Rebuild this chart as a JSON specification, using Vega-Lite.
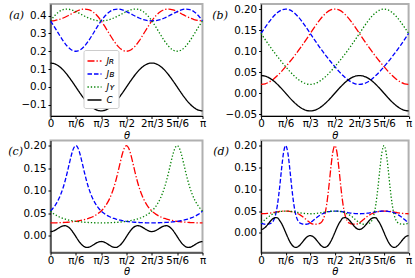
{
"$schema": "https://vega.github.io/schema/vega-lite/v6.json",
"padding": {"left": 6.5, "top": 3, "right": 2, "bottom": 0},
"bounds": "flush",
"columns": 2,
"spacing": {"column": 58.6, "row": 24.5},
"config": {
"view": {"stroke": "#b0b0b0", "strokeWidth": 2},
"axis": {"grid": false, "domainColor": "#000000", "domainWidth": 1, "tickColor": "#000000", "tickSize": 2.5, "labelFont": "DejaVu Sans", "labelFontSize": 10.3, "labelColor": "#000000", "titleFont": "DejaVu Sans", "titleFontWeight": "normal", "titleColor": "#000000"},
"axisX": {"labelPadding": 0, "titleFontSize": 10, "titleFontStyle": "italic", "titlePadding": 1.5, "labelFlush": false},
"axisY": {"labelPadding": 2, "titleAngle": 0, "titleFont": "DejaVu Serif", "titleFontStyle": "italic", "titleFontSize": 11, "titleAlign": "left", "titleBaseline": "middle", "labelFlush": false}
},
"resolve": {"scale": {"y": "independent", "color": "independent", "strokeDash": "independent"}},
"datasets": {
"a": [
{"th":0,"R":0.3700,"B":0.3700,"Y":0.3700,"C":0.1340},
{"th":5,"R":0.3719,"B":0.3338,"Y":0.3999,"C":0.1294},
{"th":10,"R":0.3774,"B":0.2950,"Y":0.4212,"C":0.1160},
{"th":15,"R":0.3861,"B":0.2579,"Y":0.4330,"C":0.0948},
{"th":20,"R":0.3973,"B":0.2273,"Y":0.4359,"C":0.0670},
{"th":25,"R":0.4099,"B":0.2071,"Y":0.4315,"C":0.0347},
{"th":30,"R":0.4220,"B":0.2000,"Y":0.4220,"C":0},
{"th":35,"R":0.4315,"B":0.2071,"Y":0.4099,"C":-0.0347},
{"th":40,"R":0.4359,"B":0.2273,"Y":0.3973,"C":-0.0670},
{"th":45,"R":0.4330,"B":0.2579,"Y":0.3861,"C":-0.0948},
{"th":50,"R":0.4212,"B":0.2950,"Y":0.3774,"C":-0.1160},
{"th":55,"R":0.3999,"B":0.3338,"Y":0.3719,"C":-0.1294},
{"th":60,"R":0.3700,"B":0.3700,"Y":0.3700,"C":-0.1340},
{"th":65,"R":0.3338,"B":0.3999,"Y":0.3719,"C":-0.1294},
{"th":70,"R":0.2950,"B":0.4212,"Y":0.3774,"C":-0.1160},
{"th":75,"R":0.2579,"B":0.4330,"Y":0.3861,"C":-0.0948},
{"th":80,"R":0.2273,"B":0.4359,"Y":0.3973,"C":-0.0670},
{"th":85,"R":0.2071,"B":0.4315,"Y":0.4099,"C":-0.0347},
{"th":90,"R":0.2000,"B":0.4220,"Y":0.4220,"C":0},
{"th":95,"R":0.2071,"B":0.4099,"Y":0.4315,"C":0.0347},
{"th":100,"R":0.2273,"B":0.3973,"Y":0.4359,"C":0.0670},
{"th":105,"R":0.2579,"B":0.3861,"Y":0.4330,"C":0.0948},
{"th":110,"R":0.2950,"B":0.3774,"Y":0.4212,"C":0.1160},
{"th":115,"R":0.3338,"B":0.3719,"Y":0.3999,"C":0.1294},
{"th":120,"R":0.3700,"B":0.3700,"Y":0.3700,"C":0.1340},
{"th":125,"R":0.3999,"B":0.3719,"Y":0.3338,"C":0.1294},
{"th":130,"R":0.4212,"B":0.3774,"Y":0.2950,"C":0.1160},
{"th":135,"R":0.4330,"B":0.3861,"Y":0.2579,"C":0.0948},
{"th":140,"R":0.4359,"B":0.3973,"Y":0.2273,"C":0.0670},
{"th":145,"R":0.4315,"B":0.4099,"Y":0.2071,"C":0.0347},
{"th":150,"R":0.4220,"B":0.4220,"Y":0.2000,"C":0},
{"th":155,"R":0.4099,"B":0.4315,"Y":0.2071,"C":-0.0347},
{"th":160,"R":0.3973,"B":0.4359,"Y":0.2273,"C":-0.0670},
{"th":165,"R":0.3861,"B":0.4330,"Y":0.2579,"C":-0.0948},
{"th":170,"R":0.3774,"B":0.4212,"Y":0.2950,"C":-0.1160},
{"th":175,"R":0.3719,"B":0.3999,"Y":0.3338,"C":-0.1294},
{"th":180,"R":0.3700,"B":0.3700,"Y":0.3700,"C":-0.1340}
],
"b": [
{"th":0,"R":0.0210,"B":0.1421,"Y":0.1421,"C":0.0420},
{"th":5,"R":0.0225,"B":0.1565,"Y":0.1275,"C":0.0406},
{"th":10,"R":0.0267,"B":0.1703,"Y":0.1134,"C":0.0364},
{"th":15,"R":0.0334,"B":0.1823,"Y":0.0999,"C":0.0297},
{"th":20,"R":0.0420,"B":0.1918,"Y":0.0870,"C":0.0210},
{"th":25,"R":0.0520,"B":0.1979,"Y":0.0748,"C":0.0109},
{"th":30,"R":0.0631,"B":0.2000,"Y":0.0631,"C":0},
{"th":35,"R":0.0748,"B":0.1979,"Y":0.0520,"C":-0.0109},
{"th":40,"R":0.0870,"B":0.1918,"Y":0.0420,"C":-0.0210},
{"th":45,"R":0.0999,"B":0.1823,"Y":0.0334,"C":-0.0297},
{"th":50,"R":0.1134,"B":0.1703,"Y":0.0267,"C":-0.0364},
{"th":55,"R":0.1275,"B":0.1565,"Y":0.0225,"C":-0.0406},
{"th":60,"R":0.1421,"B":0.1421,"Y":0.0210,"C":-0.0420},
{"th":65,"R":0.1565,"B":0.1275,"Y":0.0225,"C":-0.0406},
{"th":70,"R":0.1703,"B":0.1134,"Y":0.0267,"C":-0.0364},
{"th":75,"R":0.1823,"B":0.0999,"Y":0.0334,"C":-0.0297},
{"th":80,"R":0.1918,"B":0.0870,"Y":0.0420,"C":-0.0210},
{"th":85,"R":0.1979,"B":0.0748,"Y":0.0520,"C":-0.0109},
{"th":90,"R":0.2000,"B":0.0631,"Y":0.0631,"C":0},
{"th":95,"R":0.1979,"B":0.0520,"Y":0.0748,"C":0.0109},
{"th":100,"R":0.1918,"B":0.0420,"Y":0.0870,"C":0.0210},
{"th":105,"R":0.1823,"B":0.0334,"Y":0.0999,"C":0.0297},
{"th":110,"R":0.1703,"B":0.0267,"Y":0.1134,"C":0.0364},
{"th":115,"R":0.1565,"B":0.0225,"Y":0.1275,"C":0.0406},
{"th":120,"R":0.1421,"B":0.0210,"Y":0.1421,"C":0.0420},
{"th":125,"R":0.1275,"B":0.0225,"Y":0.1565,"C":0.0406},
{"th":130,"R":0.1134,"B":0.0267,"Y":0.1703,"C":0.0364},
{"th":135,"R":0.0999,"B":0.0334,"Y":0.1823,"C":0.0297},
{"th":140,"R":0.0870,"B":0.0420,"Y":0.1918,"C":0.0210},
{"th":145,"R":0.0748,"B":0.0520,"Y":0.1979,"C":0.0109},
{"th":150,"R":0.0631,"B":0.0631,"Y":0.2000,"C":0},
{"th":155,"R":0.0520,"B":0.0748,"Y":0.1979,"C":-0.0109},
{"th":160,"R":0.0420,"B":0.0870,"Y":0.1918,"C":-0.0210},
{"th":165,"R":0.0334,"B":0.0999,"Y":0.1823,"C":-0.0297},
{"th":170,"R":0.0267,"B":0.1134,"Y":0.1703,"C":-0.0364},
{"th":175,"R":0.0225,"B":0.1275,"Y":0.1565,"C":-0.0406},
{"th":180,"R":0.0210,"B":0.1421,"Y":0.1421,"C":-0.0420}
],
"c": [
{"th":0,"R":0.0290,"B":0.0553,"Y":0.0553,"C":0.0097},
{"th":2.5,"R":0.0291,"B":0.0603,"Y":0.0512,"C":0.0104},
{"th":5,"R":0.0291,"B":0.0663,"Y":0.0478,"C":0.0123},
{"th":7.5,"R":0.0292,"B":0.0737,"Y":0.0450,"C":0.0150},
{"th":10,"R":0.0294,"B":0.0827,"Y":0.0426,"C":0.0180},
{"th":12.5,"R":0.0295,"B":0.0938,"Y":0.0405,"C":0.0207},
{"th":15,"R":0.0298,"B":0.1073,"Y":0.0388,"C":0.0224},
{"th":17.5,"R":0.0301,"B":0.1234,"Y":0.0373,"C":0.0227},
{"th":20,"R":0.0304,"B":0.1420,"Y":0.0360,"C":0.0211},
{"th":22.5,"R":0.0308,"B":0.1620,"Y":0.0349,"C":0.0176},
{"th":25,"R":0.0313,"B":0.1808,"Y":0.0340,"C":0.0124},
{"th":27.5,"R":0.0318,"B":0.1948,"Y":0.0331,"C":0.0059},
{"th":30,"R":0.0324,"B":0.2000,"Y":0.0324,"C":-0.0013},
{"th":32.5,"R":0.0331,"B":0.1948,"Y":0.0318,"C":-0.0085},
{"th":35,"R":0.0340,"B":0.1808,"Y":0.0313,"C":-0.0150},
{"th":37.5,"R":0.0349,"B":0.1620,"Y":0.0308,"C":-0.0202},
{"th":40,"R":0.0360,"B":0.1420,"Y":0.0304,"C":-0.0237},
{"th":42.5,"R":0.0373,"B":0.1234,"Y":0.0301,"C":-0.0253},
{"th":45,"R":0.0388,"B":0.1073,"Y":0.0298,"C":-0.0250},
{"th":47.5,"R":0.0405,"B":0.0938,"Y":0.0295,"C":-0.0233},
{"th":50,"R":0.0426,"B":0.0827,"Y":0.0294,"C":-0.0206},
{"th":52.5,"R":0.0450,"B":0.0737,"Y":0.0292,"C":-0.0176},
{"th":55,"R":0.0478,"B":0.0663,"Y":0.0291,"C":-0.0149},
{"th":57.5,"R":0.0512,"B":0.0603,"Y":0.0291,"C":-0.0130},
{"th":60,"R":0.0553,"B":0.0553,"Y":0.0290,"C":-0.0123},
{"th":62.5,"R":0.0603,"B":0.0512,"Y":0.0291,"C":-0.0130},
{"th":65,"R":0.0663,"B":0.0478,"Y":0.0291,"C":-0.0149},
{"th":67.5,"R":0.0737,"B":0.0450,"Y":0.0292,"C":-0.0176},
{"th":70,"R":0.0827,"B":0.0426,"Y":0.0294,"C":-0.0206},
{"th":72.5,"R":0.0938,"B":0.0405,"Y":0.0295,"C":-0.0233},
{"th":75,"R":0.1073,"B":0.0388,"Y":0.0298,"C":-0.0250},
{"th":77.5,"R":0.1234,"B":0.0373,"Y":0.0301,"C":-0.0253},
{"th":80,"R":0.1420,"B":0.0360,"Y":0.0304,"C":-0.0237},
{"th":82.5,"R":0.1620,"B":0.0349,"Y":0.0308,"C":-0.0202},
{"th":85,"R":0.1808,"B":0.0340,"Y":0.0313,"C":-0.0150},
{"th":87.5,"R":0.1948,"B":0.0331,"Y":0.0318,"C":-0.0085},
{"th":90,"R":0.2000,"B":0.0324,"Y":0.0324,"C":-0.0013},
{"th":92.5,"R":0.1948,"B":0.0318,"Y":0.0331,"C":0.0059},
{"th":95,"R":0.1808,"B":0.0313,"Y":0.0340,"C":0.0124},
{"th":97.5,"R":0.1620,"B":0.0308,"Y":0.0349,"C":0.0176},
{"th":100,"R":0.1420,"B":0.0304,"Y":0.0360,"C":0.0211},
{"th":102.5,"R":0.1234,"B":0.0301,"Y":0.0373,"C":0.0227},
{"th":105,"R":0.1073,"B":0.0298,"Y":0.0388,"C":0.0224},
{"th":107.5,"R":0.0938,"B":0.0295,"Y":0.0405,"C":0.0207},
{"th":110,"R":0.0827,"B":0.0294,"Y":0.0426,"C":0.0180},
{"th":112.5,"R":0.0737,"B":0.0292,"Y":0.0450,"C":0.0150},
{"th":115,"R":0.0663,"B":0.0291,"Y":0.0478,"C":0.0123},
{"th":117.5,"R":0.0603,"B":0.0291,"Y":0.0512,"C":0.0104},
{"th":120,"R":0.0553,"B":0.0290,"Y":0.0553,"C":0.0097},
{"th":122.5,"R":0.0512,"B":0.0291,"Y":0.0603,"C":0.0104},
{"th":125,"R":0.0478,"B":0.0291,"Y":0.0663,"C":0.0123},
{"th":127.5,"R":0.0450,"B":0.0292,"Y":0.0737,"C":0.0150},
{"th":130,"R":0.0426,"B":0.0294,"Y":0.0827,"C":0.0180},
{"th":132.5,"R":0.0405,"B":0.0295,"Y":0.0938,"C":0.0207},
{"th":135,"R":0.0388,"B":0.0298,"Y":0.1073,"C":0.0224},
{"th":137.5,"R":0.0373,"B":0.0301,"Y":0.1234,"C":0.0227},
{"th":140,"R":0.0360,"B":0.0304,"Y":0.1420,"C":0.0211},
{"th":142.5,"R":0.0349,"B":0.0308,"Y":0.1620,"C":0.0176},
{"th":145,"R":0.0340,"B":0.0313,"Y":0.1808,"C":0.0124},
{"th":147.5,"R":0.0331,"B":0.0318,"Y":0.1948,"C":0.0059},
{"th":150,"R":0.0324,"B":0.0324,"Y":0.2000,"C":-0.0013},
{"th":152.5,"R":0.0318,"B":0.0331,"Y":0.1948,"C":-0.0085},
{"th":155,"R":0.0313,"B":0.0340,"Y":0.1808,"C":-0.0150},
{"th":157.5,"R":0.0308,"B":0.0349,"Y":0.1620,"C":-0.0202},
{"th":160,"R":0.0304,"B":0.0360,"Y":0.1420,"C":-0.0237},
{"th":162.5,"R":0.0301,"B":0.0373,"Y":0.1234,"C":-0.0253},
{"th":165,"R":0.0298,"B":0.0388,"Y":0.1073,"C":-0.0250},
{"th":167.5,"R":0.0295,"B":0.0405,"Y":0.0938,"C":-0.0233},
{"th":170,"R":0.0294,"B":0.0426,"Y":0.0827,"C":-0.0206},
{"th":172.5,"R":0.0292,"B":0.0450,"Y":0.0737,"C":-0.0176},
{"th":175,"R":0.0291,"B":0.0478,"Y":0.0663,"C":-0.0149},
{"th":177.5,"R":0.0291,"B":0.0512,"Y":0.0603,"C":-0.0130},
{"th":180,"R":0.0290,"B":0.0553,"Y":0.0553,"C":-0.0123}
],
"d": [
{"th":0,"R":0.0440,"B":0.0232,"Y":0.0232,"C":0.0080},
{"th":2.5,"R":0.0441,"B":0.0208,"Y":0.0268,"C":0.0093},
{"th":5,"R":0.0444,"B":0.0200,"Y":0.0308,"C":0.0128},
{"th":7.5,"R":0.0448,"B":0.0201,"Y":0.0348,"C":0.0180},
{"th":10,"R":0.0454,"B":0.0207,"Y":0.0385,"C":0.0239},
{"th":12.5,"R":0.0461,"B":0.0226,"Y":0.0415,"C":0.0294},
{"th":15,"R":0.0469,"B":0.0279,"Y":0.0440,"C":0.0334},
{"th":17.5,"R":0.0477,"B":0.0406,"Y":0.0460,"C":0.0350},
{"th":20,"R":0.0485,"B":0.0649,"Y":0.0475,"C":0.0346},
{"th":22.5,"R":0.0492,"B":0.1024,"Y":0.0487,"C":0.0290},
{"th":25,"R":0.0497,"B":0.1472,"Y":0.0495,"C":0.0216},
{"th":27.5,"R":0.0500,"B":0.1850,"Y":0.0499,"C":0.0119},
{"th":30,"R":0.0500,"B":0.2000,"Y":0.0500,"C":0.0010},
{"th":32.5,"R":0.0499,"B":0.1850,"Y":0.0500,"C":-0.0099},
{"th":35,"R":0.0495,"B":0.1472,"Y":0.0497,"C":-0.0196},
{"th":37.5,"R":0.0487,"B":0.1024,"Y":0.0492,"C":-0.0270},
{"th":40,"R":0.0475,"B":0.0649,"Y":0.0485,"C":-0.0316},
{"th":42.5,"R":0.0460,"B":0.0406,"Y":0.0477,"C":-0.0330},
{"th":45,"R":0.0440,"B":0.0279,"Y":0.0469,"C":-0.0314},
{"th":47.5,"R":0.0415,"B":0.0226,"Y":0.0461,"C":-0.0274},
{"th":50,"R":0.0385,"B":0.0207,"Y":0.0454,"C":-0.0219},
{"th":52.5,"R":0.0348,"B":0.0201,"Y":0.0448,"C":-0.0160},
{"th":55,"R":0.0308,"B":0.0200,"Y":0.0444,"C":-0.0108},
{"th":57.5,"R":0.0268,"B":0.0208,"Y":0.0441,"C":-0.0073},
{"th":60,"R":0.0232,"B":0.0232,"Y":0.0440,"C":-0.0060},
{"th":62.5,"R":0.0208,"B":0.0268,"Y":0.0441,"C":-0.0073},
{"th":65,"R":0.0200,"B":0.0308,"Y":0.0444,"C":-0.0108},
{"th":67.5,"R":0.0201,"B":0.0348,"Y":0.0448,"C":-0.0160},
{"th":70,"R":0.0207,"B":0.0385,"Y":0.0454,"C":-0.0219},
{"th":72.5,"R":0.0226,"B":0.0415,"Y":0.0461,"C":-0.0274},
{"th":75,"R":0.0279,"B":0.0440,"Y":0.0469,"C":-0.0314},
{"th":77.5,"R":0.0406,"B":0.0460,"Y":0.0477,"C":-0.0330},
{"th":80,"R":0.0649,"B":0.0475,"Y":0.0485,"C":-0.0316},
{"th":82.5,"R":0.1024,"B":0.0487,"Y":0.0492,"C":-0.0270},
{"th":85,"R":0.1472,"B":0.0495,"Y":0.0497,"C":-0.0196},
{"th":87.5,"R":0.1850,"B":0.0499,"Y":0.0500,"C":-0.0099},
{"th":90,"R":0.2000,"B":0.0500,"Y":0.0500,"C":0.0010},
{"th":92.5,"R":0.1850,"B":0.0500,"Y":0.0499,"C":0.0119},
{"th":95,"R":0.1472,"B":0.0497,"Y":0.0495,"C":0.0216},
{"th":97.5,"R":0.1024,"B":0.0492,"Y":0.0487,"C":0.0290},
{"th":100,"R":0.0649,"B":0.0485,"Y":0.0475,"C":0.0346},
{"th":102.5,"R":0.0406,"B":0.0477,"Y":0.0460,"C":0.0350},
{"th":105,"R":0.0279,"B":0.0469,"Y":0.0440,"C":0.0334},
{"th":107.5,"R":0.0226,"B":0.0461,"Y":0.0415,"C":0.0294},
{"th":110,"R":0.0207,"B":0.0454,"Y":0.0385,"C":0.0239},
{"th":112.5,"R":0.0201,"B":0.0448,"Y":0.0348,"C":0.0180},
{"th":115,"R":0.0200,"B":0.0444,"Y":0.0308,"C":0.0128},
{"th":117.5,"R":0.0208,"B":0.0441,"Y":0.0268,"C":0.0093},
{"th":120,"R":0.0232,"B":0.0440,"Y":0.0232,"C":0.0080},
{"th":122.5,"R":0.0268,"B":0.0441,"Y":0.0208,"C":0.0093},
{"th":125,"R":0.0308,"B":0.0444,"Y":0.0200,"C":0.0128},
{"th":127.5,"R":0.0348,"B":0.0448,"Y":0.0201,"C":0.0180},
{"th":130,"R":0.0385,"B":0.0454,"Y":0.0207,"C":0.0239},
{"th":132.5,"R":0.0415,"B":0.0461,"Y":0.0226,"C":0.0294},
{"th":135,"R":0.0440,"B":0.0469,"Y":0.0279,"C":0.0334},
{"th":137.5,"R":0.0460,"B":0.0477,"Y":0.0406,"C":0.0350},
{"th":140,"R":0.0475,"B":0.0485,"Y":0.0649,"C":0.0346},
{"th":142.5,"R":0.0487,"B":0.0492,"Y":0.1024,"C":0.0290},
{"th":145,"R":0.0495,"B":0.0497,"Y":0.1472,"C":0.0216},
{"th":147.5,"R":0.0499,"B":0.0500,"Y":0.1850,"C":0.0119},
{"th":150,"R":0.0500,"B":0.0500,"Y":0.2000,"C":0.0010},
{"th":152.5,"R":0.0500,"B":0.0499,"Y":0.1850,"C":-0.0099},
{"th":155,"R":0.0497,"B":0.0495,"Y":0.1472,"C":-0.0196},
{"th":157.5,"R":0.0492,"B":0.0487,"Y":0.1024,"C":-0.0270},
{"th":160,"R":0.0485,"B":0.0475,"Y":0.0649,"C":-0.0316},
{"th":162.5,"R":0.0477,"B":0.0460,"Y":0.0406,"C":-0.0330},
{"th":165,"R":0.0469,"B":0.0440,"Y":0.0279,"C":-0.0314},
{"th":167.5,"R":0.0461,"B":0.0415,"Y":0.0226,"C":-0.0274},
{"th":170,"R":0.0454,"B":0.0385,"Y":0.0207,"C":-0.0219},
{"th":172.5,"R":0.0448,"B":0.0348,"Y":0.0201,"C":-0.0160},
{"th":175,"R":0.0444,"B":0.0308,"Y":0.0200,"C":-0.0108},
{"th":177.5,"R":0.0441,"B":0.0268,"Y":0.0208,"C":-0.0073},
{"th":180,"R":0.0440,"B":0.0232,"Y":0.0232,"C":-0.0060}
]
},
"concat": [
{
"width": 152, "height": 112,
"data": {"name": "a"},
"transform": [{"fold": ["R","B","Y","C"], "as": ["s","v"]}],
"mark": {"type": "line", "strokeWidth": 1.3, "interpolate": "monotone"},
"encoding": {
"x": {"field": "th", "type": "quantitative", "scale": {"domain": [0,180], "nice": false}, "axis": {"values": [0,30,60,90,120,150,180], "labelExpr": "['0','π/6','π/3','π/2','2π/3','5π/6','π'][round(datum.value/30)]", "title": "θ"}},
"y": {"field": "v", "type": "quantitative", "scale": {"domain": [-0.1625,0.4644], "nice": false, "zero": false}, "axis": {"values": [-0.1,0,0.1,0.2,0.3,0.4], "labelExpr": "replace(format(datum.value,'.1f'),'-','−')", "title": "(a)", "titleX": -42, "titleY": 11}},
"color": {"field": "s", "type": "nominal", "scale": {"domain": ["R","B","Y","C"], "range": ["#ff0000","#0000ff","#008000","#000000"]}, "legend": {"orient": "none", "legendX": 33, "legendY": 46, "title": null, "fillColor": "#ffffff", "strokeColor": "#cccccc", "cornerRadius": 2, "padding": 3, "symbolType": "stroke", "symbolSize": 196, "symbolStrokeWidth": 1.3, "labelFont": "DejaVu Sans", "labelFontSize": 9, "labelFontStyle": "italic", "rowPadding": -4.5, "labelExpr": "datum.value == 'R' ? 'Jʀ' : datum.value == 'B' ? 'Jʙ' : datum.value == 'Y' ? 'Jʏ' : 'C'"}},
"strokeDash": {"field": "s", "type": "nominal", "scale": {"domain": ["R","B","Y","C"], "range": [[7,2,1.3,2],[4.5,2],[1.3,2],[1,0]]}, "legend": {"orient": "none", "legendX": 33, "legendY": 46, "title": null, "fillColor": "#ffffff", "strokeColor": "#cccccc", "cornerRadius": 2, "padding": 3, "symbolType": "stroke", "symbolSize": 196, "symbolStrokeWidth": 1.3, "labelFont": "DejaVu Sans", "labelFontSize": 9, "labelFontStyle": "italic", "rowPadding": -4.5, "labelExpr": "datum.value == 'R' ? 'Jʀ' : datum.value == 'B' ? 'Jʙ' : datum.value == 'Y' ? 'Jʏ' : 'C'"}}
}
},
{
"width": 147.5, "height": 112,
"data": {"name": "b"},
"transform": [{"fold": ["R","B","Y","C"], "as": ["s","v"]}],
"mark": {"type": "line", "strokeWidth": 1.3, "interpolate": "monotone"},
"encoding": {
"x": {"field": "th", "type": "quantitative", "scale": {"domain": [0,180], "nice": false}, "axis": {"values": [0,30,60,90,120,150,180], "labelExpr": "['0','π/6','π/3','π/2','2π/3','5π/6','π'][round(datum.value/30)]", "title": "θ"}},
"y": {"field": "v", "type": "quantitative", "scale": {"domain": [-0.0541,0.2121], "nice": false, "zero": false}, "axis": {"values": [-0.05,0,0.05,0.1,0.15,0.2], "labelExpr": "replace(format(datum.value,'.2f'),'-','−')", "title": "(b)", "titleX": -49.3, "titleY": 11}},
"color": {"field": "s", "type": "nominal", "scale": {"domain": ["R","B","Y","C"], "range": ["#ff0000","#0000ff","#008000","#000000"]}, "legend": null},
"strokeDash": {"field": "s", "type": "nominal", "scale": {"domain": ["R","B","Y","C"], "range": [[7,2,1.3,2],[4.5,2],[1.3,2],[1,0]]}, "legend": null}
}
},
{
"width": 152, "height": 112,
"data": {"name": "c"},
"transform": [{"fold": ["R","B","Y","C"], "as": ["s","v"]}],
"mark": {"type": "line", "strokeWidth": 1.3, "interpolate": "monotone"},
"encoding": {
"x": {"field": "th", "type": "quantitative", "scale": {"domain": [0,180], "nice": false}, "axis": {"values": [0,30,60,90,120,150,180], "labelExpr": "['0','π/6','π/3','π/2','2π/3','5π/6','π'][round(datum.value/30)]", "title": "θ"}},
"y": {"field": "v", "type": "quantitative", "scale": {"domain": [-0.0366,0.2113], "nice": false, "zero": false}, "axis": {"values": [0,0.05,0.1,0.15,0.2], "labelExpr": "replace(format(datum.value,'.2f'),'-','−')", "title": "(c)", "titleX": -42.7, "titleY": 11}},
"color": {"field": "s", "type": "nominal", "scale": {"domain": ["R","B","Y","C"], "range": ["#ff0000","#0000ff","#008000","#000000"]}, "legend": null},
"strokeDash": {"field": "s", "type": "nominal", "scale": {"domain": ["R","B","Y","C"], "range": [[7,2,1.3,2],[4.5,2],[1.3,2],[1,0]]}, "legend": null}
}
},
{
"width": 147.5, "height": 112,
"data": {"name": "d"},
"transform": [{"fold": ["R","B","Y","C"], "as": ["s","v"]}],
"mark": {"type": "line", "strokeWidth": 1.3, "interpolate": "monotone"},
"encoding": {
"x": {"field": "th", "type": "quantitative", "scale": {"domain": [0,180], "nice": false}, "axis": {"values": [0,30,60,90,120,150,180], "labelExpr": "['0','π/6','π/3','π/2','2π/3','5π/6','π'][round(datum.value/30)]", "title": "θ"}},
"y": {"field": "v", "type": "quantitative", "scale": {"domain": [-0.0447,0.2117], "nice": false, "zero": false}, "axis": {"values": [0,0.05,0.1,0.15,0.2], "labelExpr": "replace(format(datum.value,'.2f'),'-','−')", "title": "(d)", "titleX": -48.3, "titleY": 11}},
"color": {"field": "s", "type": "nominal", "scale": {"domain": ["R","B","Y","C"], "range": ["#ff0000","#0000ff","#008000","#000000"]}, "legend": null},
"strokeDash": {"field": "s", "type": "nominal", "scale": {"domain": ["R","B","Y","C"], "range": [[7,2,1.3,2],[4.5,2],[1.3,2],[1,0]]}, "legend": null}
}
}
]
}
